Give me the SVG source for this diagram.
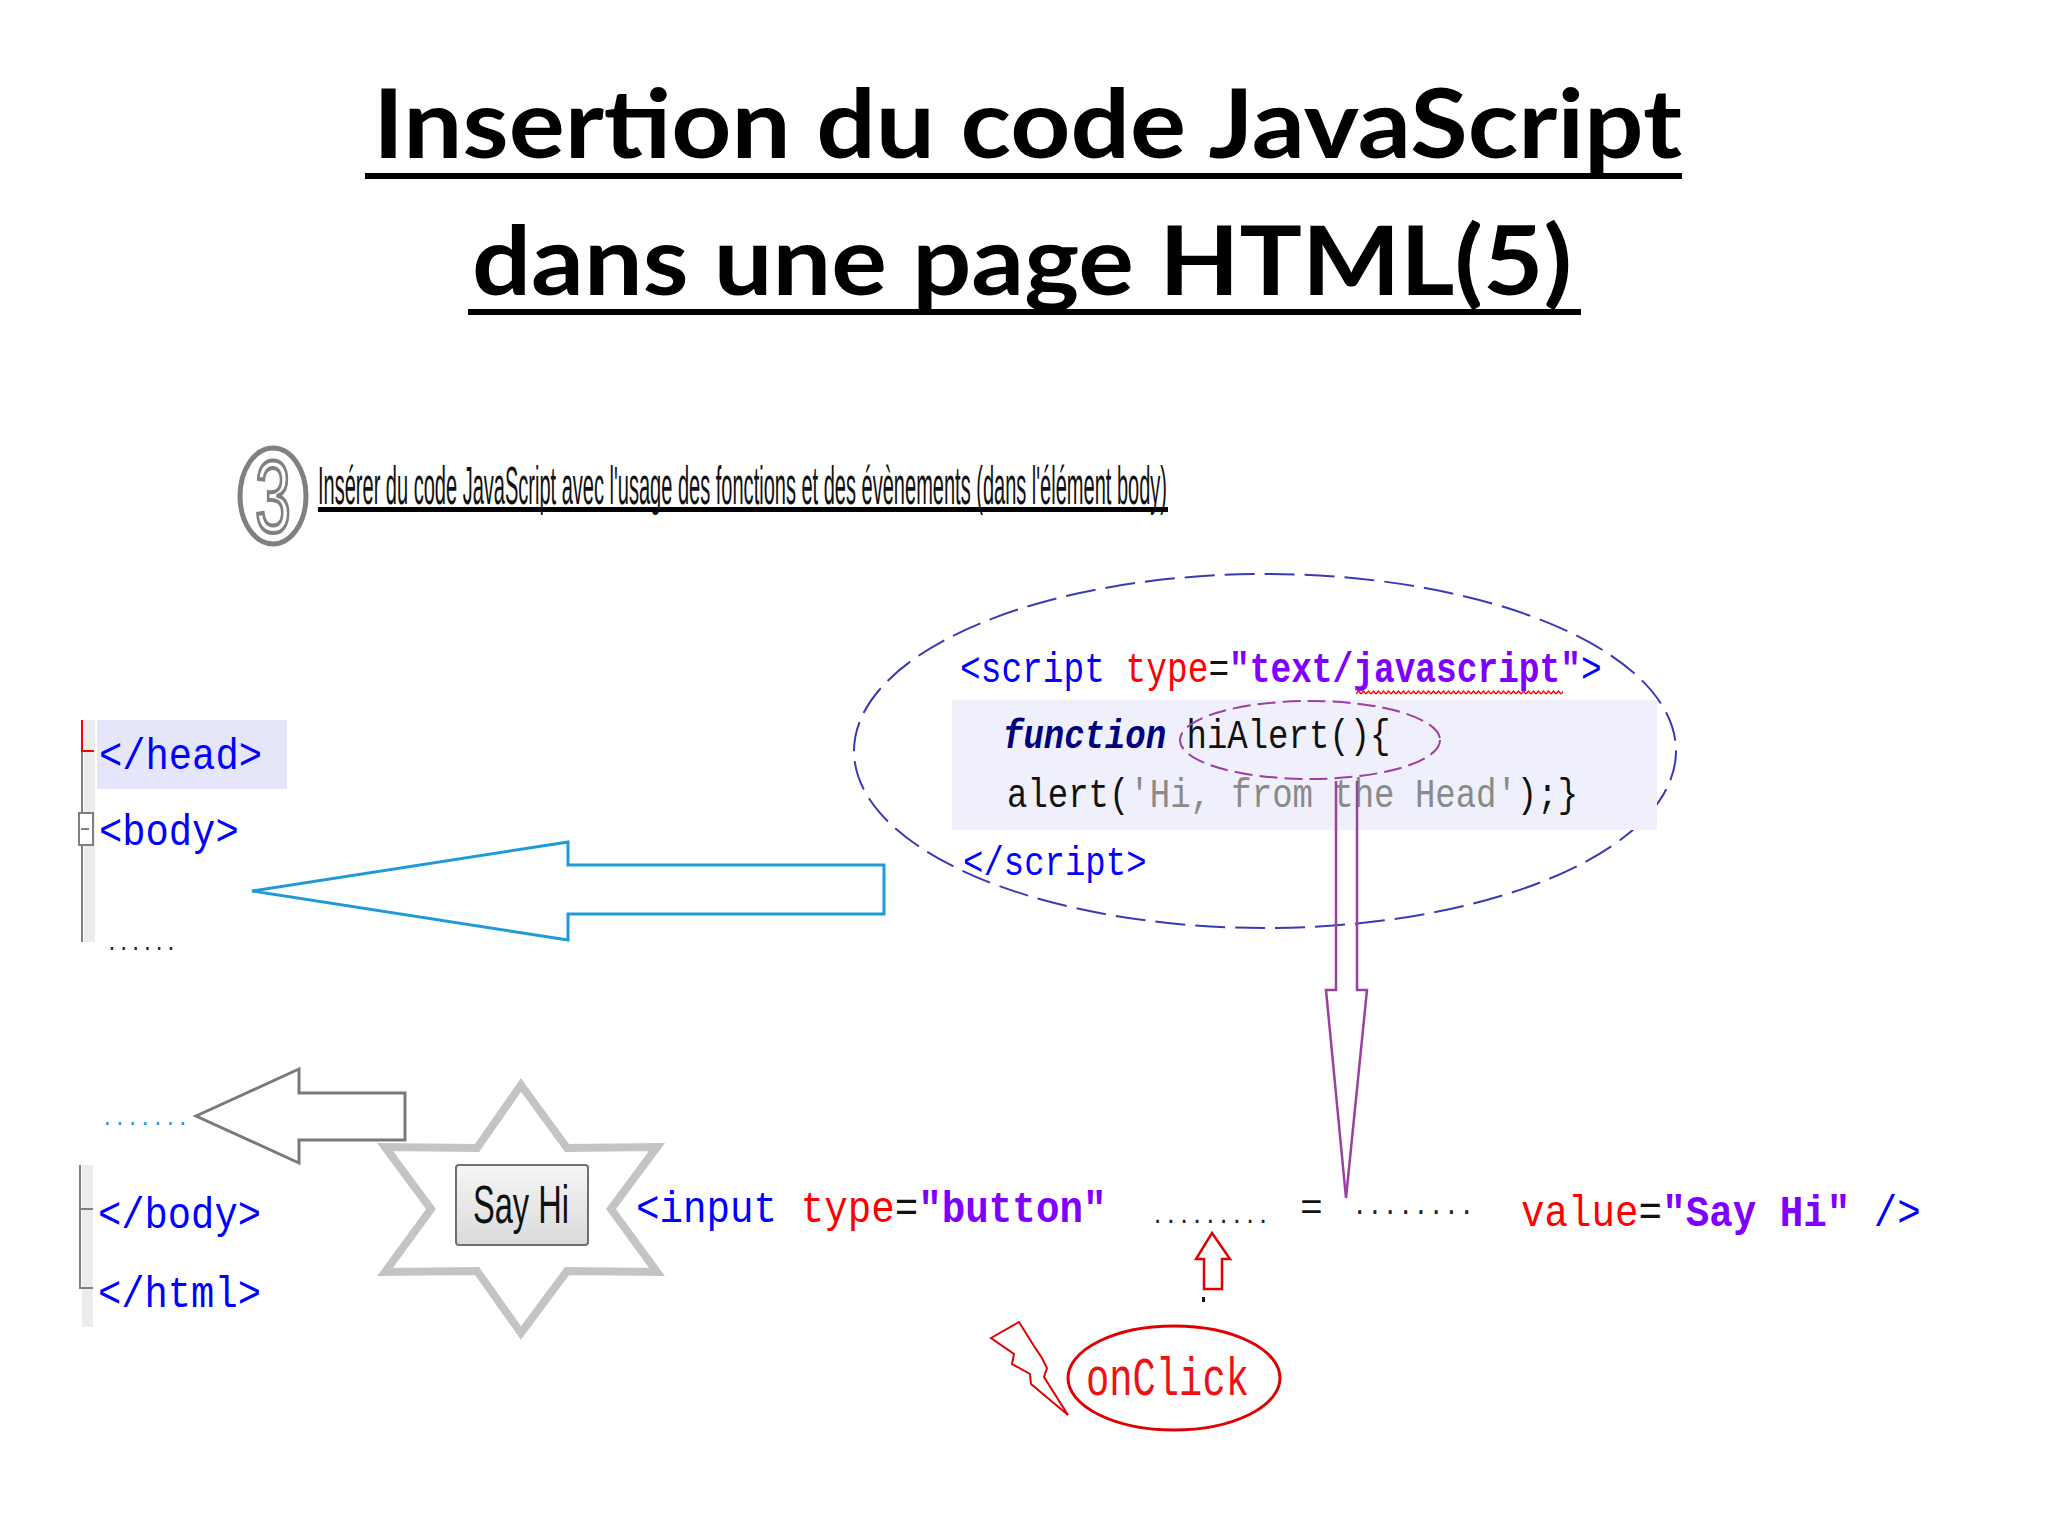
<svg xmlns="http://www.w3.org/2000/svg" width="2048" height="1536" viewBox="0 0 2048 1536">
<defs>
<style>
.title{font-family:Lato,"Open Sans","Liberation Sans",sans-serif;font-weight:bold;font-size:96px;fill:#000}
.sub{font-family:"Liberation Sans",Arial,sans-serif;font-size:20px;fill:#111}
.code{font-family:"Liberation Mono","DejaVu Sans Mono",monospace}
.blue{fill:#0000ff}
.red{fill:#ff0000}
.blk{fill:#111}
.str{fill:#8000ff;font-weight:bold}
.navy{fill:#000080;font-weight:bold;font-style:italic}
.gray{fill:#8a8a8a}
.dots{font-family:"Liberation Mono",monospace;fill:#222}
</style>
<linearGradient id="btn" x1="0" y1="0" x2="0" y2="1">
<stop offset="0" stop-color="#f6f6f6"/>
<stop offset="1" stop-color="#dadada"/>
</linearGradient>
<pattern id="wave" x="1356" y="690" width="5" height="5" patternUnits="userSpaceOnUse">
<path d="M0 4 L2.5 1 L5 4" stroke="#ff0000" stroke-width="1.3" fill="none"/>
</pattern>
</defs>
<rect width="2048" height="1536" fill="#ffffff"/>

<g id="title">
<text class="title" x="373" y="158" textLength="1309" lengthAdjust="spacingAndGlyphs">Insertion du code JavaScript</text>
<rect x="365" y="173" width="1317" height="6" fill="#000"/>
<text class="title" x="472" y="295" textLength="1100" lengthAdjust="spacingAndGlyphs">dans une page HTML(5)</text>
<rect x="468" y="309" width="1113" height="6" fill="#000"/>
</g>

<g id="subtitle">
<ellipse cx="273" cy="496" rx="33" ry="48" fill="none" stroke="#808080" stroke-width="5"/>
<text transform="translate(255 532) scale(1 1.6)" font-family="Liberation Sans,sans-serif" font-size="64" textLength="36" lengthAdjust="spacingAndGlyphs" fill="#fff" stroke="#808080" stroke-width="2.5">3</text>
<text class="sub" transform="translate(318 504) scale(1 2.7)" textLength="849" lengthAdjust="spacingAndGlyphs">Insérer du code JavaScript avec l'usage des fonctions et des évènements (dans l'élément body)</text>
<rect x="318" y="507" width="850" height="5" fill="#000"/>
</g>

<g id="head-body">
<rect x="84" y="720" width="11" height="222" fill="#ececec"/>
<line x1="82" y1="752" x2="82" y2="942" stroke="#808080" stroke-width="2"/>
<line x1="82" y1="720" x2="82" y2="752" stroke="#ff0000" stroke-width="2"/>
<line x1="82" y1="751" x2="94" y2="751" stroke="#ff0000" stroke-width="2"/>
<rect x="79" y="813" width="14" height="32" fill="#fff" stroke="#808080" stroke-width="2"/>
<line x1="81" y1="829" x2="89" y2="829" stroke="#808080" stroke-width="2"/>
<rect x="97" y="720" width="190" height="69" fill="#e6e6fa"/>
<text class="code blue" transform="translate(99 769) scale(1 1.15)" font-size="38.8">&lt;/head&gt;</text>
<text class="code blue" transform="translate(99 845) scale(1 1.15)" font-size="38.8">&lt;body&gt;</text>
<text class="dots" x="106" y="950" font-size="19.7">......</text>
</g>

<g id="script-block">
<ellipse cx="1265" cy="751" rx="411" ry="177" fill="none" stroke="#3a3ab4" stroke-width="2" stroke-dasharray="30 10"/>
<rect x="952" y="700" width="705" height="130" fill="#eff0fb"/>
<text class="code" transform="translate(960 682) scale(1 1.22)" font-size="34.5"><tspan class="blue">&lt;script</tspan> <tspan class="red">type</tspan><tspan class="blk">=</tspan><tspan class="str">"text/javascript"</tspan><tspan class="blue">&gt;</tspan></text>
<rect x="1356" y="690" width="207" height="5" fill="url(#wave)"/>
<text class="code" transform="translate(1003 748) scale(1 1.22)" font-size="34"><tspan class="navy">function</tspan> <tspan class="blk">hiAlert(){</tspan></text>
<text class="code" transform="translate(1007 807) scale(1 1.22)" font-size="34"><tspan class="blk">alert(</tspan><tspan class="gray">'Hi, from the Head'</tspan><tspan class="blk">);}</tspan></text>
<text class="code blue" transform="translate(963 875) scale(1 1.22)" font-size="34">&lt;/script&gt;</text>
<ellipse cx="1310" cy="740" rx="130" ry="39" fill="none" stroke="#9b3fa0" stroke-width="2" stroke-dasharray="18 7"/>
</g>

<g id="body-end">
<text class="dots" x="101" y="1125" font-size="21" style="fill:#1aa0e0">.......</text>
<rect x="82" y="1165" width="11" height="162" fill="#ececec"/>
<line x1="80" y1="1165" x2="80" y2="1288" stroke="#808080" stroke-width="2"/>
<line x1="80" y1="1209" x2="93" y2="1209" stroke="#808080" stroke-width="2"/>
<line x1="79" y1="1288" x2="93" y2="1288" stroke="#808080" stroke-width="2"/>
<text class="code blue" transform="translate(98 1228) scale(1 1.15)" font-size="38.8">&lt;/body&gt;</text>
<text class="code blue" transform="translate(98 1307) scale(1 1.15)" font-size="38.8">&lt;/html&gt;</text>
</g>

<g id="say-hi-button">
<polygon points="521,1085 567,1148 657,1147 611,1209 657,1272 567,1271 521,1333 477,1271 385,1272 431,1209 385,1147 477,1148" fill="#fff" stroke="#c4c4c4" stroke-width="8"/>
<rect x="456" y="1165" width="132" height="80" rx="3" fill="url(#btn)" stroke="#707070" stroke-width="2"/>
<text transform="translate(473 1223) scale(1 1.65)" font-family="Liberation Sans,sans-serif" font-size="32" textLength="96" lengthAdjust="spacingAndGlyphs" fill="#111">Say Hi</text>
</g>

<g id="input-line">
<text class="code" transform="translate(636 1222) scale(1 1.15)" font-size="39.2"><tspan class="blue">&lt;input</tspan> <tspan class="red">type</tspan><tspan class="blk">=</tspan><tspan class="str">"button"</tspan></text>
<text class="dots" x="1151" y="1223" font-size="22">.........</text>
<text class="code blk" x="1300" y="1220" font-size="38">=</text>
<text class="dots" x="1352" y="1214" font-size="25.5">........</text>
<text class="code" transform="translate(1521 1226) scale(1 1.15)" font-size="39.2"><tspan class="red">value</tspan><tspan class="blk">=</tspan><tspan class="str">"Say Hi"</tspan> <tspan class="blue">/&gt;</tspan></text>
</g>

<g id="onclick">
<polygon points="991,1338 1019,1322 1034,1346 1042,1358 1047,1368 1044,1377 1068,1415 1031,1384 1030,1374 1012,1364 1014,1354" fill="#fff" stroke="#e00000" stroke-width="2"/>
<ellipse cx="1174" cy="1378" rx="106" ry="52" fill="none" stroke="#e00000" stroke-width="3"/>
<text class="code" transform="translate(1086 1395) scale(1 1.4)" font-size="38.8" fill="#ee1111">onClick</text>
</g>

<g id="connectors" fill="#fff" stroke-linejoin="miter">
<polygon points="252,891 568,842 568,865 884,865 884,914 568,914 568,940" stroke="#1e9bd7" stroke-width="3"/>
<polygon points="196,1116 299,1069 299,1093 405,1093 405,1140 299,1140 299,1163" stroke="#7a7a7a" stroke-width="3"/>
<path d="M1336,781 V990 H1326 L1346,1198 L1367,990 H1357 V781" fill="none" stroke="#9b3fa0" stroke-width="2.5"/>
<polygon points="1212,1233 1230,1259 1222,1259 1222,1289 1204,1289 1204,1259 1196,1259" stroke="#e00000" stroke-width="2.5"/>
<rect x="1202" y="1297" width="3" height="5" fill="#111" stroke="none"/>
</g>
</svg>
